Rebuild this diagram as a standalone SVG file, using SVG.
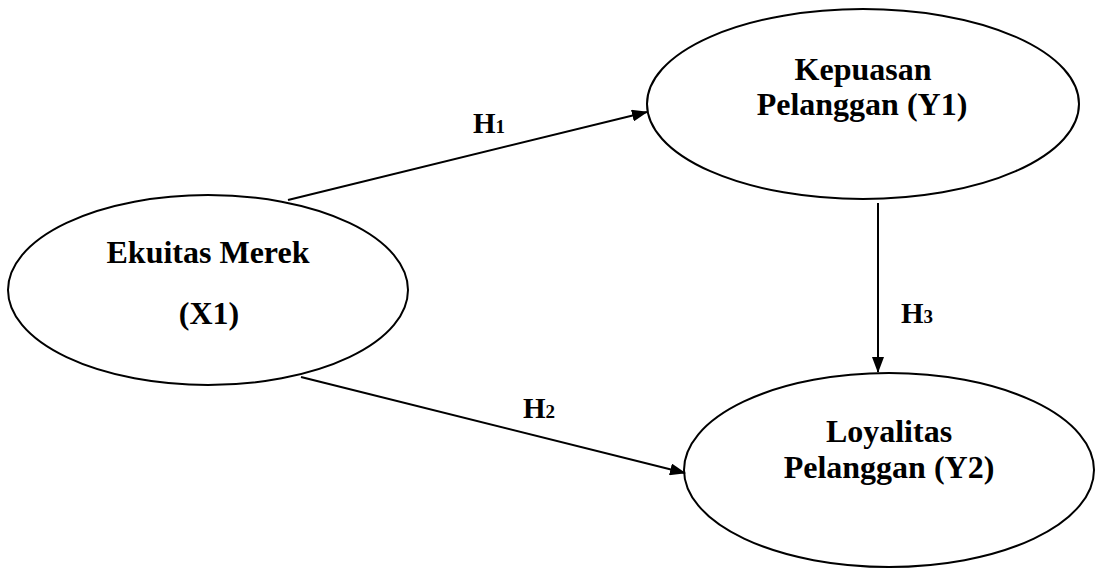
<svg xmlns="http://www.w3.org/2000/svg" width="1095" height="570" viewBox="0 0 1095 570">
<style>
.node{fill:#fff;stroke:#000;stroke-width:2}
.lbl{font-family:"Liberation Serif","Times New Roman",serif;font-weight:bold;font-size:32px;fill:#000;text-anchor:middle}
.h{font-family:"Liberation Serif","Times New Roman",serif;font-weight:bold;font-size:29px;fill:#000}
.sub{font-size:19px}
.edge{stroke:#000;stroke-width:2;fill:none}
</style>
<defs>
<marker id="arr" markerWidth="16" markerHeight="12" refX="15" refY="6" orient="auto" markerUnits="userSpaceOnUse">
<path d="M0,0 L16,6 L0,12 Z" fill="#000"/>
</marker>
</defs>
<rect width="1095" height="570" fill="#fff"/>
<g id="node-x1">
<ellipse class="node" cx="208" cy="290" rx="200" ry="95"/>
<text class="lbl" x="208" y="263">Ekuitas Merek</text>
<text class="lbl" x="209" y="324">(X1)</text>
</g>
<g id="node-y1">
<ellipse class="node" cx="863" cy="104" rx="216" ry="95"/>
<text class="lbl" x="863" y="80">Kepuasan</text>
<text class="lbl" x="862" y="115">Pelanggan (Y1)</text>
</g>
<g id="node-y2">
<ellipse class="node" cx="889" cy="470" rx="205" ry="97"/>
<text class="lbl" x="889" y="442">Loyalitas</text>
<text class="lbl" x="889" y="478">Pelanggan (Y2)</text>
</g>
<g id="connectors">
<line class="edge" x1="288" y1="200" x2="647" y2="112" marker-end="url(#arr)"/>
<line class="edge" x1="301" y1="377" x2="685" y2="473" marker-end="url(#arr)"/>
<line class="edge" x1="878" y1="203" x2="878" y2="372" marker-end="url(#arr)"/>
<text class="h" x="473" y="133">H<tspan class="sub">1</tspan></text>
<text class="h" x="523" y="418">H<tspan class="sub">2</tspan></text>
<text class="h" x="901" y="323">H<tspan class="sub">3</tspan></text>
</g>
</svg>
